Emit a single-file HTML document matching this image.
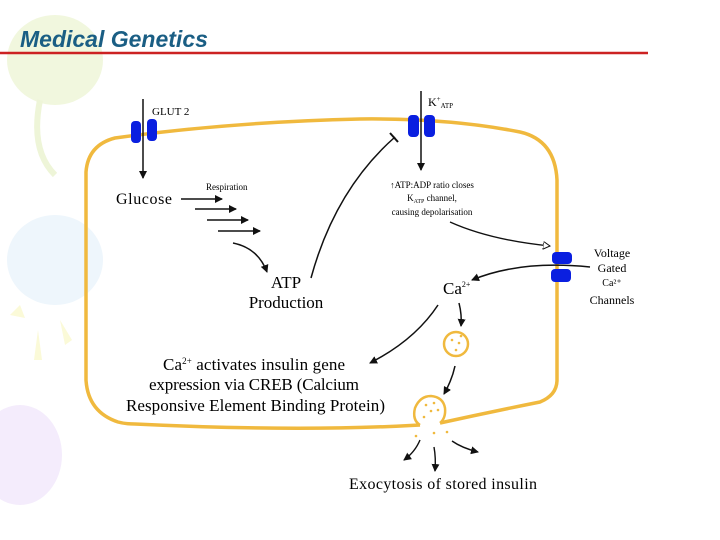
<!DOCTYPE html>
<html><head><meta charset="utf-8"><style>
html,body{margin:0;padding:0;background:#fff;}
body{width:720px;height:540px;overflow:hidden;position:relative;}
svg{position:absolute;left:0;top:0;}
</style></head><body>
<svg width="720" height="540" viewBox="0 0 720 540" xmlns="http://www.w3.org/2000/svg" font-family="Liberation Serif, serif">
<defs>
<marker id="ah" markerWidth="8" markerHeight="8" refX="7" refY="4" orient="auto" markerUnits="userSpaceOnUse"><path d="M0,0 L8,4 L0,8 Z" fill="#111"/></marker>
<marker id="ao" markerWidth="8" markerHeight="8" refX="7" refY="4" orient="auto" markerUnits="userSpaceOnUse"><path d="M0,0 L7,4 L0,8 Z" fill="#fff" stroke="#111" stroke-width="1"/></marker>
</defs>
<ellipse cx="55" cy="60" rx="48" ry="45" fill="#f1f7de"/>
<path d="M40,100 Q30,150 55,175" stroke="#eef5d8" stroke-width="6" fill="none"/>
<ellipse cx="55" cy="260" rx="48" ry="45" fill="#eef6fc"/>
<ellipse cx="20" cy="455" rx="42" ry="50" fill="#f4ecfc"/>
<path d="M10,315 L20,305 L25,318Z M38,330 L42,360 L34,360Z M60,320 L72,340 L65,345Z" fill="#fbfad8"/>
<text x="20" y="47" font-family="Liberation Sans, sans-serif" font-style="italic" font-weight="bold" font-size="23" fill="#1a5e84">Medical Genetics</text>
<line x1="0" y1="53" x2="648" y2="53" stroke="#cc2222" stroke-width="2.5"/>
<path d="M440,423 Q490,412 540,402 Q557,395 557,380 L557,180 Q555,140 520,132 Q450,118 360,119 Q230,122 115,138 Q88,145 86,172 L86,380 Q88,412 118,422 Q125,424 135,424 Q300,432 420,425" fill="none" stroke="#f0b93e" stroke-width="3.5"/>
<rect x="131" y="121" width="10" height="22" rx="4" fill="#0a1fe0"/>
<rect x="147" y="119" width="10" height="22" rx="4" fill="#0a1fe0"/>
<line x1="143" y1="99" x2="143" y2="178" stroke="#111" stroke-width="1.5" marker-end="url(#ah)"/>
<text x="152" y="115" font-size="11">GLUT 2</text>
<text x="116" y="204" font-size="16" textLength="56">Glucose</text>
<text x="206" y="190" font-size="9">Respiration</text>
<line x1="181" y1="199" x2="222" y2="199" stroke="#111" stroke-width="1.4" marker-end="url(#ah)"/>
<line x1="195" y1="209" x2="236" y2="209" stroke="#111" stroke-width="1.4" marker-end="url(#ah)"/>
<line x1="207" y1="220" x2="248" y2="220" stroke="#111" stroke-width="1.4" marker-end="url(#ah)"/>
<line x1="218" y1="231" x2="260" y2="231" stroke="#111" stroke-width="1.4" marker-end="url(#ah)"/>
<path d="M233,243 Q258,248 267,272" stroke="#111" stroke-width="1.5" fill="none" marker-end="url(#ah)"/>
<text x="286" y="288" font-size="17" text-anchor="middle">ATP</text>
<text x="286" y="308" font-size="17" text-anchor="middle">Production</text>
<path d="M311,278 Q335,190 395,137" stroke="#111" stroke-width="1.5" fill="none"/>
<line x1="390" y1="133" x2="398" y2="142" stroke="#111" stroke-width="2"/>
<rect x="408" y="115" width="11" height="22" rx="4" fill="#0a1fe0"/>
<rect x="424" y="115" width="11" height="22" rx="4" fill="#0a1fe0"/>
<line x1="421" y1="91" x2="421" y2="170" stroke="#111" stroke-width="1.5" marker-end="url(#ah)"/>
<text x="428" y="106" font-size="12">K<tspan font-size="7" dy="-5">+</tspan><tspan font-size="7" dy="7">ATP</tspan></text>
<text x="432" y="188" font-size="9" text-anchor="middle">↑ATP:ADP ratio closes</text>
<text x="432" y="201" font-size="9" text-anchor="middle">K<tspan font-size="6" dy="2">ATP</tspan><tspan dy="-2"> channel,</tspan></text>
<text x="432" y="215" font-size="9" text-anchor="middle">causing depolarisation</text>
<path d="M450,222 Q490,240 550,246" stroke="#111" stroke-width="1.3" fill="none" marker-end="url(#ao)"/>
<rect x="552" y="252" width="20" height="12" rx="4" fill="#0a1fe0"/>
<rect x="551" y="269" width="20" height="13" rx="4" fill="#0a1fe0"/>
<path d="M590,267 Q520,260 472,280" stroke="#111" stroke-width="1.5" fill="none" marker-end="url(#ah)"/>
<text x="612" y="257" font-size="12" text-anchor="middle">Voltage</text>
<text x="612" y="272" font-size="12" text-anchor="middle">Gated</text>
<text x="612" y="286" font-size="10" text-anchor="middle">Ca²⁺</text>
<text x="612" y="304" font-size="12" text-anchor="middle">Channels</text>
<text x="443" y="294" font-size="17">Ca<tspan font-size="8" dy="-7">2+</tspan></text>
<path d="M438,305 Q415,340 370,363" stroke="#111" stroke-width="1.5" fill="none" marker-end="url(#ah)"/>
<path d="M459,303 Q462,315 461,326" stroke="#111" stroke-width="1.5" fill="none" marker-end="url(#ah)"/>
<text x="163" y="370" font-size="17" textLength="182">Ca<tspan font-size="9" dy="-6">2+</tspan><tspan dy="6"> activates insulin gene</tspan></text>
<text x="149" y="390" font-size="17" textLength="210">expression via CREB (Calcium</text>
<text x="126" y="411" font-size="17" textLength="259">Responsive Element Binding Protein)</text>
<circle cx="456" cy="344" r="12" fill="#fff" stroke="#f0b93e" stroke-width="2.5"/>
<circle cx="452" cy="340" r="1.3" fill="#f0b93e"/><circle cx="459" cy="343" r="1.3" fill="#f0b93e"/><circle cx="456" cy="350" r="1.3" fill="#f0b93e"/><circle cx="461" cy="336" r="1.3" fill="#f0b93e"/>
<path d="M455,366 Q452,380 444,394" stroke="#111" stroke-width="1.5" fill="none" marker-end="url(#ah)"/>
<path d="M420,425 Q412,420 415,408 Q420,396 431,396 Q443,397 445,408 Q446,418 440,423" fill="#fff" stroke="#f0b93e" stroke-width="2.5"/>
<circle cx="426" cy="405" r="1.3" fill="#f0b93e"/><circle cx="434" cy="403" r="1.3" fill="#f0b93e"/><circle cx="431" cy="411" r="1.3" fill="#f0b93e"/><circle cx="438" cy="410" r="1.3" fill="#f0b93e"/><circle cx="424" cy="417" r="1.3" fill="#f0b93e"/>
<circle cx="416" cy="436" r="1.3" fill="#f0b93e"/><circle cx="434" cy="433" r="1.3" fill="#f0b93e"/><circle cx="447" cy="432" r="1.3" fill="#f0b93e"/>
<path d="M420,440 Q415,452 404,460" stroke="#111" stroke-width="1.4" fill="none" marker-end="url(#ah)"/>
<path d="M434,447 Q436,458 435,471" stroke="#111" stroke-width="1.4" fill="none" marker-end="url(#ah)"/>
<path d="M452,441 Q462,448 478,452" stroke="#111" stroke-width="1.4" fill="none" marker-end="url(#ah)"/>
<text x="349" y="489" font-size="16" textLength="188">Exocytosis of stored insulin</text>
</svg>
</body></html>
